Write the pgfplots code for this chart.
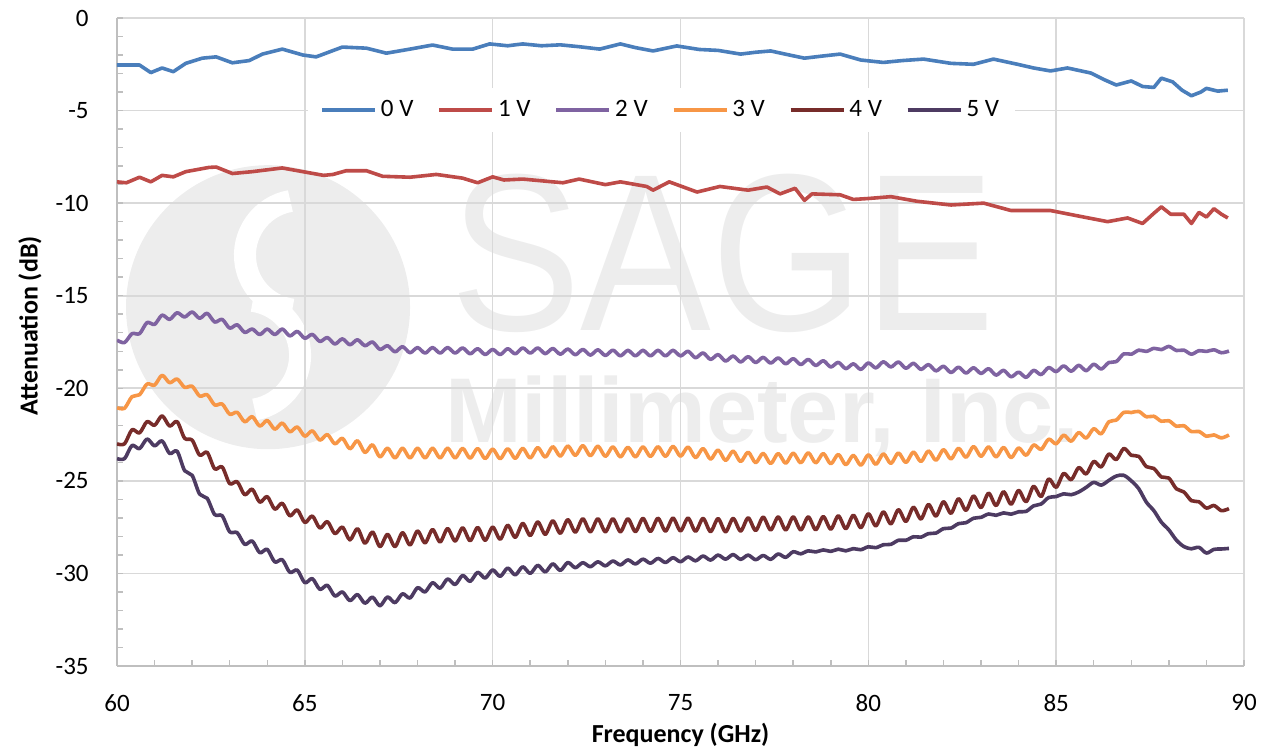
\documentclass[border=0pt]{standalone}
\usepackage{pgfplots}
\pgfplotsset{compat=1.18}
\usepackage{pgfplotstable}
\usepackage{graphicx}
\usepackage{fontspec}
\setmainfont{Carlito}
\newfontfamily\wmfont{Liberation Sans}

\definecolor{c0}{HTML}{4A7EBB}
\definecolor{c1}{HTML}{BE4B48}
\definecolor{c2}{HTML}{7F63A1}
\definecolor{c3}{HTML}{F79646}
\definecolor{c4}{HTML}{772C2A}
\definecolor{c5}{HTML}{4D3B62}
\definecolor{gridc}{HTML}{D9D9D9}
\definecolor{axc}{HTML}{BFBFBF}
\definecolor{wm}{HTML}{EDEDED}

% 2 V .. 5 V, sampled every 0.2 GHz
\pgfplotstableread{
f p o r d
60.0 -17.40 -21.05 -23.00 -23.80
60.2 -17.53 -21.08 -23.00 -23.80
60.4 -17.05 -20.45 -22.24 -23.09
60.6 -17.05 -20.35 -22.41 -23.26
60.8 -16.45 -19.77 -21.80 -22.74
61.0 -16.55 -19.83 -22.00 -23.11
61.2 -16.05 -19.30 -21.49 -22.84
61.4 -16.28 -19.70 -22.04 -23.52
61.6 -15.92 -19.50 -21.80 -23.40
61.8 -16.15 -19.95 -22.70 -24.45
62.0 -15.88 -19.89 -22.80 -24.70
62.2 -16.22 -20.42 -23.61 -25.72
62.4 -15.95 -20.35 -23.46 -25.94
62.6 -16.42 -20.90 -24.35 -26.82
62.8 -16.28 -20.85 -24.25 -26.89
63.0 -16.75 -21.40 -25.15 -27.75
63.2 -16.57 -21.30 -25.05 -27.80
63.4 -16.98 -21.81 -25.75 -28.43
63.6 -16.80 -21.53 -25.45 -28.25
63.8 -17.10 -22.04 -26.15 -28.88
64.0 -16.80 -21.74 -25.85 -28.70
64.2 -17.10 -22.21 -26.53 -29.38
64.4 -16.80 -21.88 -26.21 -29.26
64.6 -17.17 -22.35 -26.89 -29.94
64.8 -16.93 -22.09 -26.57 -29.82
65.0 -17.30 -22.59 -27.25 -30.50
65.2 -17.09 -22.30 -26.90 -30.28
65.4 -17.47 -22.80 -27.55 -30.86
65.6 -17.26 -22.50 -27.20 -30.64
65.8 -17.61 -23.00 -27.85 -31.22
66.0 -17.33 -22.70 -27.50 -31.00
66.2 -17.65 -23.27 -28.19 -31.47
66.4 -17.38 -22.83 -27.58 -31.14
66.6 -17.70 -23.47 -28.37 -31.61
66.8 -17.50 -23.05 -27.76 -31.28
67.0 -17.90 -23.71 -28.55 -31.75
67.2 -17.70 -23.23 -27.89 -31.27
67.4 -18.03 -23.77 -28.55 -31.58
67.6 -17.75 -23.23 -27.80 -31.10
67.8 -18.08 -23.77 -28.46 -31.33
68.0 -17.80 -23.23 -27.71 -30.77
68.2 -18.10 -23.77 -28.35 -31.00
68.4 -17.80 -23.23 -27.63 -30.50
68.6 -18.10 -23.77 -28.30 -30.80
68.8 -17.80 -23.23 -27.58 -30.30
69.0 -18.10 -23.77 -28.25 -30.60
69.2 -17.82 -23.24 -27.54 -30.11
69.4 -18.14 -23.78 -28.23 -30.43
69.6 -17.86 -23.25 -27.52 -29.94
69.8 -18.18 -23.80 -28.21 -30.25
70.0 -17.90 -23.28 -27.50 -29.81
70.2 -18.18 -23.81 -28.15 -30.16
70.4 -17.86 -23.26 -27.40 -29.71
70.6 -18.14 -23.79 -28.05 -30.08
70.8 -17.82 -23.24 -27.30 -29.64
71.0 -18.10 -23.77 -27.95 -30.00
71.2 -17.82 -23.20 -27.22 -29.56
71.4 -18.13 -23.72 -27.89 -29.92
71.6 -17.85 -23.15 -27.16 -29.48
71.8 -18.16 -23.67 -27.83 -29.84
72.0 -17.88 -23.11 -27.10 -29.41
72.2 -18.19 -23.63 -27.77 -29.69
72.4 -17.90 -23.09 -27.05 -29.42
72.6 -18.21 -23.65 -27.75 -29.64
72.8 -17.92 -23.12 -27.05 -29.37
73.0 -18.23 -23.68 -27.75 -29.59
73.2 -17.94 -23.16 -27.05 -29.33
73.4 -18.25 -23.71 -27.75 -29.54
73.6 -17.95 -23.18 -27.05 -29.27
73.8 -18.25 -23.71 -27.74 -29.49
74.0 -17.95 -23.16 -27.03 -29.23
74.2 -18.25 -23.69 -27.73 -29.45
74.4 -17.95 -23.15 -27.02 -29.19
74.6 -18.25 -23.68 -27.71 -29.41
74.8 -17.95 -23.13 -27.01 -29.15
75.0 -18.25 -23.67 -27.70 -29.37
75.2 -18.00 -23.17 -27.01 -29.11
75.4 -18.35 -23.75 -27.72 -29.32
75.6 -18.09 -23.25 -27.03 -29.06
75.8 -18.44 -23.83 -27.74 -29.28
76.0 -18.18 -23.33 -27.04 -29.01
76.2 -18.53 -23.90 -27.75 -29.23
76.4 -18.26 -23.39 -27.03 -28.98
76.6 -18.58 -23.96 -27.71 -29.24
76.8 -18.29 -23.45 -27.00 -29.01
77.0 -18.61 -24.02 -27.68 -29.26
77.2 -18.33 -23.51 -26.96 -29.03
77.4 -18.64 -24.07 -27.65 -29.24
77.6 -18.36 -23.52 -26.95 -28.95
77.8 -18.68 -24.05 -27.65 -29.13
78.0 -18.40 -23.50 -26.95 -28.83
78.2 -18.72 -24.03 -27.65 -28.94
78.4 -18.44 -23.48 -26.95 -28.78
78.6 -18.77 -24.03 -27.64 -28.84
78.8 -18.51 -23.52 -26.93 -28.73
79.0 -18.85 -24.08 -27.61 -28.81
79.2 -18.60 -23.57 -26.89 -28.69
79.4 -18.94 -24.13 -27.58 -28.78
79.6 -18.68 -23.62 -26.86 -28.66
79.8 -18.98 -24.16 -27.53 -28.72
80.0 -18.63 -23.59 -26.78 -28.56
80.2 -18.90 -24.11 -27.43 -28.61
80.4 -18.57 -23.54 -26.68 -28.45
80.6 -18.85 -24.06 -27.32 -28.43
80.8 -18.58 -23.49 -26.56 -28.21
81.0 -18.92 -24.01 -27.19 -28.21
81.2 -18.65 -23.44 -26.43 -28.02
81.4 -18.98 -23.96 -27.06 -28.04
81.6 -18.72 -23.38 -26.28 -27.85
81.8 -19.06 -23.89 -26.90 -27.82
82.0 -18.81 -23.31 -26.13 -27.58
82.2 -19.15 -23.82 -26.75 -27.55
82.4 -18.86 -23.24 -25.97 -27.31
82.6 -19.18 -23.73 -26.59 -27.26
82.8 -18.89 -23.14 -25.82 -27.02
83.0 -19.20 -23.68 -26.44 -26.97
83.2 -18.94 -23.16 -25.67 -26.79
83.4 -19.29 -23.71 -26.33 -26.86
83.6 -19.03 -23.19 -25.59 -26.73
83.8 -19.38 -23.75 -26.26 -26.80
84.0 -19.13 -23.22 -25.52 -26.67
84.2 -19.41 -23.62 -26.13 -26.65
84.4 -19.03 -23.06 -25.29 -26.35
84.6 -19.26 -23.30 -25.85 -26.25
84.8 -18.88 -22.75 -24.90 -25.90
85.0 -19.10 -23.00 -25.35 -25.85
85.2 -18.79 -22.53 -24.60 -25.70
85.4 -19.08 -22.86 -24.94 -25.75
85.6 -18.76 -22.39 -24.28 -25.60
85.8 -19.05 -22.69 -24.63 -25.35
86.0 -18.70 -22.18 -23.95 -25.08
86.2 -18.96 -22.46 -24.25 -25.23
86.4 -18.61 -21.81 -23.55 -24.98
86.6 -18.56 -21.72 -23.85 -24.74
86.8 -18.14 -21.30 -23.25 -24.70
87.0 -18.16 -21.31 -23.62 -25.00
87.2 -17.94 -21.25 -23.68 -25.43
87.4 -18.01 -21.54 -24.23 -26.15
87.6 -17.84 -21.51 -24.33 -26.61
87.8 -17.91 -21.78 -24.79 -27.23
88.0 -17.74 -21.75 -24.85 -27.65
88.2 -17.96 -22.05 -25.43 -28.20
88.4 -17.94 -22.02 -25.60 -28.55
88.6 -18.16 -22.34 -26.07 -28.67
88.8 -17.97 -22.33 -26.13 -28.59
89.0 -18.01 -22.59 -26.47 -28.90
89.2 -17.92 -22.52 -26.33 -28.70
89.4 -18.08 -22.68 -26.61 -28.68
89.6 -17.99 -22.52 -26.50 -28.65
}\wiggly

\begin{document}
\begin{tikzpicture}
\begin{axis}[
    name=ax,
    set layers,
    scale only axis,
    width=563.5pt, height=324pt,
    xmin=60, xmax=90, ymin=-35, ymax=0,
    xtick={60,65,...,90},
    ytick={-35,-30,...,0},
    minor x tick num=4, minor y tick num=4,
    axis x line*=bottom, axis y line*=left,
    axis line style={axc, line width=0.9pt},
    tick align=inside,
    major tick length=3pt, minor tick length=3pt,
    tick style={axc, line width=0.75pt},
    grid=major,
    major grid style={gridc, line width=0.8pt},
    /pgf/number format/assume math mode=true,
    ticklabel style={font=\fontsize{12.5}{14}\selectfont, inner sep=0pt},
    yticklabel style={anchor=east, xshift=-14pt},
    xticklabel style={anchor=north, yshift=-14pt},
    xlabel={Frequency (GHz)},
    ylabel={Attenuation (dB)},
    every axis x label/.style={at={([yshift=-34.5pt]axis description cs:0.5,0)}, anchor=center,
        font=\fontsize{13}{15}\selectfont\bfseries},
    every axis y label/.style={at={([xshift=-43.5pt]axis description cs:0,0.525)}, rotate=90, anchor=center,
        font=\fontsize{13}{15}\selectfont\bfseries},
    legend columns=6,
    legend style={draw=none, fill=white, at={(axis cs:74.5,-4.97)}, anchor=center,
        font=\fontsize{12.5}{14}\selectfont, inner xsep=6pt, inner ysep=4pt,
        /tikz/every even column/.append style={column sep=10pt}},
    legend image code/.code={\draw[#1] (0pt,0pt) -- (26.5pt,0pt);},
    every axis plot/.append style={line width=1.8pt, line join=round},
]
\begin{pgfonlayer}{axis background}
  \fill[wm] (axis cs:64.02,-15.62) circle[radius=71pt];
  \draw[white, line width=11pt] (axis cs:64.87,-12.81) ++(100:27.5pt) arc[start angle=100, end angle=262, radius=27.5pt];
  \draw[white, line width=11pt] (axis cs:63.41,-18.22) ++(-80:27.5pt) arc[start angle=-80, end angle=82, radius=27.5pt];
  \node[anchor=base west, inner sep=0pt, text=wm, font=\wmfont\fontsize{112}{112}\selectfont]
    at (axis cs:68.86,-16.86) {\scalebox{0.875}[1]{SAGE}};
  \node[anchor=base west, inner sep=0pt, text=wm, font=\wmfont\bfseries\fontsize{46}{46}\selectfont]
    at (axis cs:68.73,-22.92) {Millimeter, Inc.};
\end{pgfonlayer}

\addplot[c0] coordinates {
(60.0,-2.54) (60.6,-2.54) (60.9,-2.95) (61.2,-2.7) (61.5,-2.9) (61.83,-2.45)
(62.27,-2.17) (62.64,-2.1) (63.07,-2.42) (63.52,-2.3) (63.87,-1.95) (64.4,-1.68)
(64.95,-2.0) (65.3,-2.1) (66.0,-1.57) (66.64,-1.63) (67.17,-1.9) (67.8,-1.68)
(68.4,-1.46) (68.93,-1.68) (69.47,-1.68) (69.92,-1.4) (70.4,-1.5) (70.8,-1.4)
(71.3,-1.5) (71.8,-1.45) (72.3,-1.55) (72.85,-1.68) (73.4,-1.4) (73.8,-1.6)
(74.27,-1.78) (74.9,-1.51) (75.5,-1.7) (76.0,-1.75) (76.6,-1.95) (77.0,-1.85)
(77.4,-1.78) (77.9,-2.0) (78.3,-2.17) (78.8,-2.05) (79.25,-1.95) (79.8,-2.27)
(80.4,-2.4) (80.9,-2.3) (81.47,-2.22) (82.2,-2.45) (82.8,-2.5) (83.33,-2.22)
(83.97,-2.5) (84.4,-2.7) (84.85,-2.86) (85.3,-2.7) (85.92,-2.97) (86.3,-3.35)
(86.6,-3.62) (87.0,-3.4) (87.3,-3.7) (87.6,-3.75) (87.8,-3.25) (88.1,-3.45)
(88.35,-3.9) (88.6,-4.2) (88.85,-4.0) (89.0,-3.8) (89.3,-3.95) (89.57,-3.9)
};
\addlegendentry{0 V}
\addplot[c1] coordinates {
(60.0,-8.85) (60.25,-8.9) (60.6,-8.6) (60.9,-8.85) (61.2,-8.5) (61.5,-8.58)
(61.83,-8.3) (62.45,-8.07) (62.64,-8.05) (63.07,-8.4) (63.6,-8.3) (64.4,-8.1)
(64.95,-8.3) (65.5,-8.5) (65.75,-8.45) (66.1,-8.25) (66.64,-8.25) (67.07,-8.55)
(67.8,-8.6) (68.5,-8.45) (69.2,-8.65) (69.6,-8.9) (70.0,-8.58) (70.3,-8.75)
(70.8,-8.7) (71.87,-8.9) (72.3,-8.7) (73.0,-9.0) (73.4,-8.85) (74.1,-9.1)
(74.27,-9.3) (74.7,-8.85) (75.44,-9.4) (76.05,-9.1) (76.8,-9.3) (77.3,-9.13)
(77.65,-9.5) (78.05,-9.2) (78.3,-9.85) (78.5,-9.5) (79.25,-9.55) (79.6,-9.8)
(80.0,-9.75) (80.6,-9.65) (81.3,-9.9) (82.2,-10.1) (83.07,-10.0) (83.8,-10.4)
(84.85,-10.4) (85.73,-10.75) (86.37,-11.0) (86.9,-10.8) (87.3,-11.1) (87.6,-10.55)
(87.8,-10.2) (88.05,-10.6) (88.4,-10.6) (88.6,-11.1) (88.8,-10.5) (89.0,-10.75)
(89.2,-10.3) (89.4,-10.6) (89.57,-10.8)
};
\addlegendentry{1 V}
\addplot[c2, smooth] table[x=f, y=p] {\wiggly};
\addlegendentry{2 V}
\addplot[c3, smooth] table[x=f, y=o] {\wiggly};
\addlegendentry{3 V}
\addplot[c4, smooth] table[x=f, y=r] {\wiggly};
\addlegendentry{4 V}
\addplot[c5, smooth] table[x=f, y=d] {\wiggly};
\addlegendentry{5 V}
\end{axis}
\pgfresetboundingbox
\path[use as bounding box] ([shift={(-58.5pt,-41.5pt)}]ax.south west) rectangle ([shift={(12pt,9pt)}]ax.north east);
\end{tikzpicture}
\end{document}
